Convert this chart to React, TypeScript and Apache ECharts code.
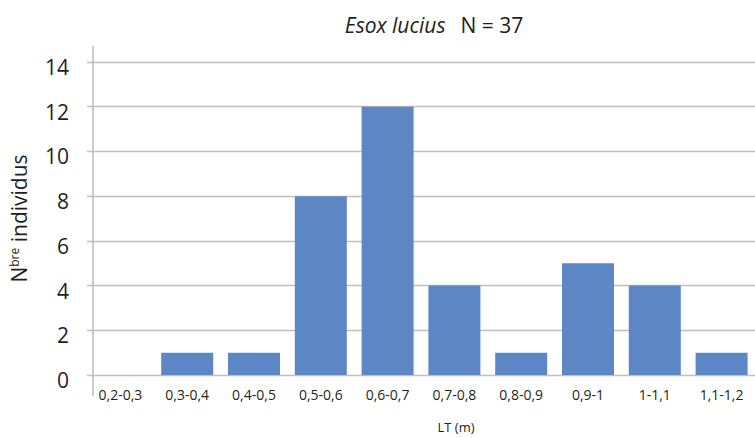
import React, { useEffect, useRef } from "react";
import * as echarts from "echarts";

const categories = ["0,2-0,3", "0,3-0,4", "0,4-0,5", "0,5-0,6", "0,6-0,7", "0,7-0,8", "0,8-0,9", "0,9-1", "1-1,1", "1,1-1,2"];
const counts = [0, 1, 1, 8, 12, 4, 1, 5, 4, 1];
const yTicks = { min: 0, max: 14, interval: 2 };

const FONT = "'Open Sans', 'Noto Sans', sans-serif";

export default function App() {
  const ref = useRef<HTMLDivElement>(null);
  useEffect(() => {
    if (!ref.current) return;
    const chart = echarts.init(ref.current, undefined, { renderer: "svg" });
    chart.setOption({
      animation: false,
      backgroundColor: "#ffffff",
      title: {
        text: "{it|Esox lucius}   {n|N = 37}",
        left: 429,
        textAlign: "center",
        top: 9,
        textStyle: {
          fontWeight: "normal",
          rich: {
            it: { fontFamily: FONT, fontStyle: "italic", fontWeight: "normal", fontSize: 21, color: "#231f20" },
            n: { fontFamily: FONT, fontWeight: "normal", fontSize: 21, color: "#231f20" },
          },
        },
      },
      grid: { left: 86, right: -4, top: 62, bottom: 54, containLabel: false },
      xAxis: {
        type: "category",
        data: categories,
        axisLine: { show: false },
        axisTick: { show: false },
        axisLabel: { fontFamily: FONT, fontSize: 14, color: "#231f20", margin: 12, interval: 0 },
        name: "LT (m)",
        nameLocation: "middle",
        nameGap: 45,
        nameTextStyle: { fontFamily: FONT, fontSize: 13, color: "#231f20", padding: [0, 0, 0, 70] },
      },
      yAxis: {
        type: "value",
        min: yTicks.min,
        max: yTicks.max,
        interval: yTicks.interval,
        axisLine: { show: false },
        axisTick: { show: false },
        axisLabel: {
          margin: 18,
          formatter: "{a|{value}}",
          rich: { a: { fontFamily: FONT, fontSize: 21, color: "#231f20", padding: [10, 0, 0, 0] } },
        },
        splitLine: { lineStyle: { color: "#bfbfbf", width: 1.3 } },
        name: "{n|N}{s|bre}{n| individus}",
        nameLocation: "middle",
        nameGap: 58,
        nameRotate: 90,
        nameTextStyle: {
          rich: {
            n: { fontFamily: FONT, fontSize: 21, color: "#231f20" },
            s: { fontFamily: FONT, fontSize: 12, color: "#231f20", padding: [0, 0, 9, 0] },
          },
        },
      },
      graphic: [
        {
          type: "line",
          shape: { x1: 93, y1: 46, x2: 93, y2: 396 },
          style: { stroke: "#bfbfbf", lineWidth: 1.6 },
          z: 10,
        },
      ],
      series: [
        {
          type: "bar",
          data: counts,
          barWidth: 52,
          itemStyle: { color: "#5d86c5" },
        },
      ],
    });
    return () => chart.dispose();
  }, []);
  return (
    <div
      ref={ref}
      style={{ position: "fixed", left: 0, top: 0, width: 755, height: 438, overflow: "hidden" }}
    />
  );
}
